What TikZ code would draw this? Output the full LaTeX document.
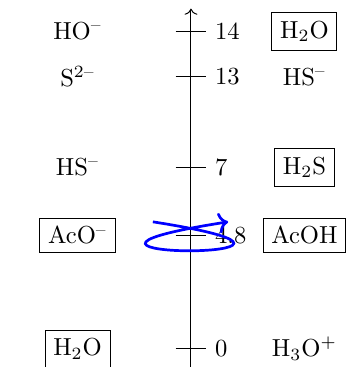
\documentclass[tikz,border=0pt]{standalone}
\usetikzlibrary{positioning, arrows.meta}

\begin{document}
\begin{tikzpicture}[x=0.648cm, y=0.648cm,
    species/.style={inner sep=3.33pt},
    boxed/.style={species, draw}]
  \useasboundingbox (-4.21,-0.40) rectangle (3.44,7.69);
  % pH axis
  \coordinate (bot) at (0,-0.5);
  \coordinate (top) at (0,7.5);
  \draw[->] (bot) -- (top);
  % ticks and pKa values
  \foreach \y/\pk [count=\i] in {0/0, 2.5/4.8, 4/7, 6/13, 7/14} {
    \draw (-0.34,\y) -- (0.34,\y) node[right] (pk\i) {\pk};
  }
  % bases on the left
  \node[species] (b14) at (-2.5,7)   {HO\textsuperscript{--}};
  \node[species] (b13) at (-2.5,6)   {S\textsuperscript{2--}};
  \node[species] (b7)  at (-2.5,4)   {HS\textsuperscript{--}};
  \node[boxed]   (bac) at (-2.5,2.5) {AcO\textsuperscript{--}};
  \node[boxed]   (b0)  at (-2.5,0)   {H$_2$O};
  % acids on the right
  \node[boxed]   (a14) at (2.5,7)    {H$_2$O};
  \node[species] (a13) at (2.5,6)    {HS\textsuperscript{--}};
  \node[boxed]   (a7)  at (2.5,4)    {H$_2$S};
  \node[boxed]   (aac) at (2.5,2.5)  {AcOH};
  \node[species] (a0)  at (2.5,0)    {H$_3$O$^+$};
  % reaction arrow
  \coordinate (from) at (-0.84,2.8);
  \coordinate (to) at (0.82,2.8);
  \draw[->, blue, line width=1.1pt] (from) .. controls (4.6,1.95) and (-4.65,1.95) .. (to);
\end{tikzpicture}
\end{document}
